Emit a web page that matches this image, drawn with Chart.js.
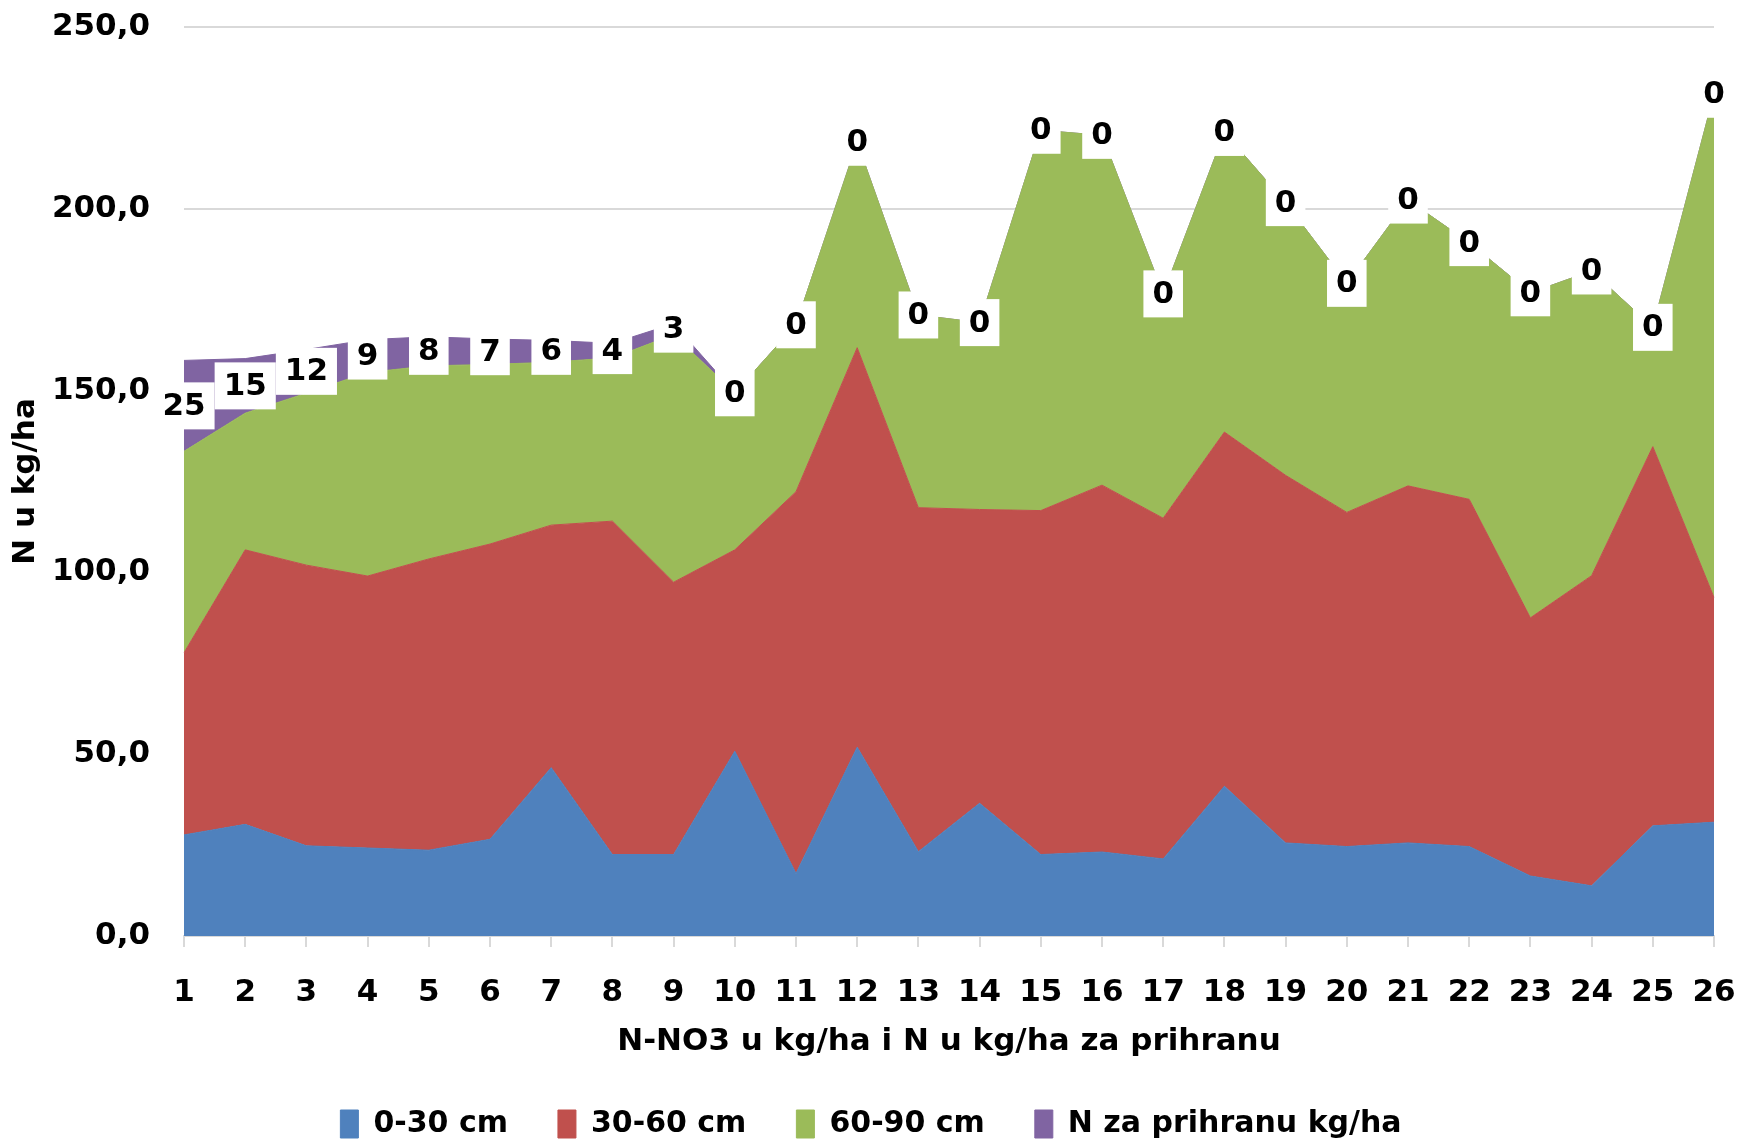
<!DOCTYPE html>
<html>
<head>
<meta charset="utf-8">
<script src="https://cdn.jsdelivr.net/npm/chart.js@4/dist/chart.umd.min.js"></script>
<style>
    html, body { margin: 0; padding: 0; background: #fff; }
    #wrap { width: 1742px; height: 1140px; position: relative; }
</style>
</head>
<body>
<div id="wrap"><canvas id="nChart"></canvas></div>
<script>
// data
const labels = ['1','2','3','4','5','6','7','8','9','10','11','12','13','14','15','16','17','18','19','20','21','22','23','24','25','26'];
const sloj0_30 = [27.8, 30.7, 24.8, 24.2, 23.6, 26.6, 46.3, 22.4, 22.4, 50.8, 17.2, 51.9, 23.2, 36.5, 22.4, 23.1, 21.2, 41.2, 25.6, 24.6, 25.6, 24.6, 16.5, 13.8, 30.3, 31.3];
const sloj30_60 = [50.1, 75.5, 77.2, 74.8, 80.1, 81.2, 66.7, 91.7, 74.9, 55.4, 105.0, 109.9, 94.6, 80.8, 94.6, 100.9, 93.7, 97.4, 101.1, 91.9, 98.2, 95.5, 71.0, 85.3, 104.3, 61.8];
const sloj60_90 = [55.4, 37.6, 47.3, 56.0, 53.1, 49.4, 44.8, 44.9, 68.1, 43.2, 45.9, 56.5, 53.0, 51.4, 104.6, 96.2, 61.7, 82.4, 75.0, 63.0, 78.6, 70.6, 89.4, 83.8, 32.8, 138.4];
const prihrana = [25, 15, 12, 9, 8, 7, 6, 4, 3, 0, 0, 0, 0, 0, 0, 0, 0, 0, 0, 0, 0, 0, 0, 0, 0, 0];

const colors = {
    blue: '#4F81BD',
    red: '#C0504D',
    green: '#9BBB59',
    purple: '#8064A2',
    grid: '#d9d9d9'
};
const fontFamily = '"DejaVu Sans", sans-serif';
const fontSize = 31;

// white boxed labels in the middle of the purple band
const prihranaLabels = {
    id: 'prihranaLabels',
    afterDatasetsDraw(chart) {
        const ctx = chart.ctx;
        const top = chart.getDatasetMeta(3);
        const below = chart.getDatasetMeta(2);
        ctx.save();
        ctx.font = 'bold ' + fontSize + 'px ' + fontFamily;
        ctx.textAlign = 'center';
        ctx.textBaseline = 'middle';
        top.data.forEach(function (pt, i) {
            const y = (pt.y + below.data[i].y) / 2;
            const txt = String(prihrana[i]);
            const w = ctx.measureText(txt).width + 18;
            const h = 47;
            ctx.fillStyle = '#fff';
            ctx.fillRect(pt.x - w / 2, y - h / 2, w, h);
            ctx.fillStyle = '#000';
            ctx.fillText(txt, pt.x, y + 1);
        });
        ctx.restore();
    }
};

function area(label, data, color, fill) {
    return {
        label: label,
        data: data,
        backgroundColor: color,
        borderColor: color,
        borderWidth: 1,
        pointRadius: 0,
        tension: 0,
        fill: fill
    };
}

new Chart(document.getElementById('nChart'), {
    type: 'line',
    data: {
        labels: labels,
        datasets: [
            area('0-30 cm', sloj0_30, colors.blue, 'origin'),
            area('30-60 cm', sloj30_60, colors.red, '-1'),
            area('60-90 cm', sloj60_90, colors.green, '-1'),
            area('N za prihranu kg/ha', prihrana, colors.purple, '-1')
        ]
    },
    options: {
        responsive: true,
        maintainAspectRatio: false,
        animation: false,
        layout: {
            padding: { top: 27, right: 28, left: 28, bottom: -9 }
        },
        plugins: {
            legend: {
                position: 'bottom',
                labels: {
                    boxWidth: 18,
                    boxHeight: 28,
                    padding: 50,
                    color: '#000',
                    font: { family: fontFamily, size: 30, weight: 'bold' }
                }
            },
            tooltip: { enabled: false }
        },
        scales: {
            x: {
                afterFit: function (scale) { scale.height = 123; },
                grid: {
                    drawOnChartArea: false,
                    drawTicks: true,
                    tickLength: 38,
                    tickBorderDash: [10, 60],
                    color: colors.grid,
                    lineWidth: 2
                },
                border: { display: true, color: colors.grid, width: 2 },
                ticks: {
                    autoSkip: false,
                    maxRotation: 0,
                    padding: 0,
                    color: '#000',
                    font: { family: fontFamily, size: fontSize, weight: 'bold' }
                },
                title: {
                    display: true,
                    text: 'N-NO3 u kg/ha i N u kg/ha za prihranu',
                    color: '#000',
                    padding: { top: 0, bottom: -2 },
                    font: { family: fontFamily, size: fontSize, weight: 'bold' }
                }
            },
            y: {
                stacked: true,
                min: 0,
                max: 250,
                afterFit: function (scale) { scale.width = 156; },
                grid: {
                    color: colors.grid,
                    lineWidth: 2,
                    drawTicks: true,
                    tickLength: 34,
                    tickColor: 'rgba(0,0,0,0)'
                },
                border: { display: false },
                ticks: {
                    stepSize: 50,
                    padding: 0,
                    color: '#000',
                    font: { family: fontFamily, size: fontSize, weight: 'bold' },
                    callback: function (value) {
                        return value.toFixed(1).replace('.', ',');
                    }
                },
                title: {
                    display: true,
                    text: 'N u kg/ha',
                    color: '#000',
                    padding: { top: -21, bottom: 0 },
                    font: { family: fontFamily, size: fontSize, weight: 'bold' }
                }
            }
        }
    },
    plugins: [prihranaLabels]
});
</script>
</body>
</html>
